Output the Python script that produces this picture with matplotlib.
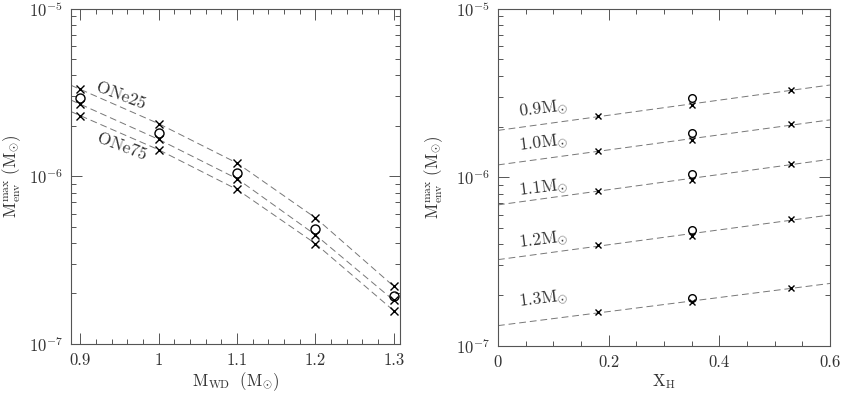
import numpy as np
import matplotlib.pyplot as plt
from matplotlib.ticker import MultipleLocator, LogLocator, NullFormatter

plt.rcParams['font.family'] = 'serif'
plt.rcParams['font.serif'] = ['cmr10', 'DejaVu Serif']
plt.rcParams['mathtext.fontset'] = 'cm'
plt.rcParams['axes.formatter.use_mathtext'] = True

# white dwarf masses and hydrogen fractions
mwd = [0.9, 1.0, 1.1, 1.2, 1.3]
xh = [0.18, 0.35, 0.53]

# maximum envelope mass (Msun), crosses for each X_H
menv_x018 = [2.30e-6, 1.44e-6, 8.35e-7, 3.97e-7, 1.58e-7]
menv_x035 = [2.69e-6, 1.66e-6, 9.68e-7, 4.48e-7, 1.82e-7]
menv_x053 = [3.30e-6, 2.06e-6, 1.20e-6, 5.66e-7, 2.21e-7]
# open circles (X_H = 0.35)
menv_circ = [2.95e-6, 1.82e-6, 1.045e-6, 4.84e-7, 1.92e-7]

mass_labels = ["0.9", "1.0", "1.1", "1.2", "1.3"]

GRAY = '#555555'
TXT = '#333333'
LINE = '#777777'

fig = plt.figure(figsize=(8.42, 3.94), dpi=100)
ax1 = fig.add_axes([0.0843, 0.127, 0.3907, 0.851])
ax2 = fig.add_axes([0.5914, 0.122, 0.3943, 0.856])


def style_axes(ax):
    ax.set_yscale('log')
    ax.set_ylim(1e-7, 1e-5)
    ax.yaxis.set_major_locator(LogLocator(base=10, numticks=5))
    ax.yaxis.set_minor_locator(LogLocator(base=10, subs=np.arange(2, 10), numticks=20))
    ax.yaxis.set_minor_formatter(NullFormatter())
    ax.tick_params(which='both', direction='in', top=True, right=True,
                   color=GRAY, labelcolor=TXT, labelsize=12, width=0.7)
    ax.tick_params(which='major', length=8, pad=6)
    ax.tick_params(which='minor', length=3.8)
    for s in ax.spines.values():
        s.set_color(GRAY)
        s.set_linewidth(0.8)
    ax.set_ylabel(r'$\mathrm{M}_{\rm env}^{\rm max}\ (\mathrm{M}_{\odot})$', color=TXT, fontsize=12)


# ---- left: envelope mass vs WD mass
style_axes(ax1)
ax1.set_xlim(0.888, 1.308)
ax1.xaxis.set_major_locator(MultipleLocator(0.1))
ax1.xaxis.set_minor_locator(MultipleLocator(0.02))
ax1.set_xticks([0.9, 1.0, 1.1, 1.2, 1.3])
ax1.set_xticklabels(['0.9', '1', '1.1', '1.2', '1.3'])
ax1.set_xlabel(r'$\mathrm{M}_{\rm WD}\ \ (\mathrm{M}_{\odot})$', color=TXT, fontsize=12, labelpad=2)
ax1.yaxis.set_label_coords(-0.145, 0.5)

# dashed curves: piecewise in log space, first segment extended to the left edge
mgrid = np.concatenate([[0.888], mwd])
for series in (menv_x018, menv_x035, menv_x053):
    logs = np.log10(series)
    slope0 = (logs[1] - logs[0]) / (mwd[1] - mwd[0])
    ext = logs[0] + slope0 * (0.888 - mwd[0])
    ax1.plot(mgrid, 10 ** np.concatenate([[ext], logs]), ls=(0, (7, 4)), color=LINE, lw=0.7)
    ax1.plot(mwd, series, 'x', color='k', ms=5.5, mew=1.0)
ax1.plot(mwd, menv_circ, 'o', mfc='none', mec='k', ms=6.5, mew=1.0)

ax1.text(0.952, 3.02e-6, 'ONe25', rotation=-21, ha='center', va='center',
         fontsize=12.5, color=TXT)
ax1.text(0.953, 1.49e-6, 'ONe75', rotation=-21, ha='center', va='center',
         fontsize=12.5, color=TXT)

# ---- right: envelope mass vs hydrogen fraction
style_axes(ax2)
ax2.set_xlim(0, 0.6)
ax2.xaxis.set_major_locator(MultipleLocator(0.2))
ax2.xaxis.set_minor_locator(MultipleLocator(0.05))
ax2.set_xticks([0, 0.2, 0.4, 0.6])
ax2.set_xticklabels(['0', '0.2', '0.4', '0.6'])
ax2.set_xlabel(r'$\mathrm{X}_{\rm H}$', color=TXT, fontsize=12, labelpad=2)
ax2.yaxis.set_label_coords(-0.16, 0.5)

by_mass = np.array([menv_x018, menv_x035, menv_x053]).T
xgrid = np.linspace(0, 0.6, 50)
label_y = [2.56e-6, 1.60e-6, 8.65e-7, 4.28e-7, 1.90e-7]
for i, row in enumerate(by_mass):
    c = np.polyfit(xh, np.log10(row), 1)
    ax2.plot(xgrid, 10 ** np.polyval(c, xgrid), ls=(0, (7, 4)), color=LINE, lw=0.7)
    ax2.plot(xh, row, 'x', color='k', ms=4, mew=1.0)
    ax2.text(0.082, label_y[i], r'$\mathrm{' + mass_labels[i] + r'M}_{\odot}$', rotation=7,
             ha='center', va='center', fontsize=12.5, color=TXT)
ax2.plot([xh[1]] * len(menv_circ), menv_circ, 'o', mfc='none', mec='k', ms=5.5, mew=1.0)

fig.savefig('out.png', dpi=100)
